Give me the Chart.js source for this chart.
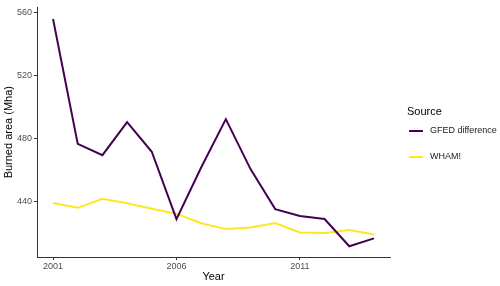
<!DOCTYPE html>
<html>
<head>
<meta charset="utf-8">
<script src="https://cdn.jsdelivr.net/npm/chart.js@4/dist/chart.umd.min.js"></script>
<style>
  html, body { margin: 0; padding: 0; background: #fff; }
  #wrap { width: 500px; height: 286px; position: relative; }
</style>
</head>
<body>
<div id="wrap"><canvas id="chart"></canvas></div>
<script>
const years = [2001, 2002, 2003, 2004, 2005, 2006, 2007, 2008, 2009, 2010, 2011, 2012, 2013, 2014];
const gfedDifference = [555.8, 476.6, 469.4, 490.4, 471.6, 428.8, 461.6, 492.3, 460.6, 435.2, 430.8, 428.9, 411.6, 416.6];
const wham = [439.1, 436.0, 441.8, 438.9, 435.4, 432.3, 426.2, 422.5, 423.5, 426.4, 420.4, 420.0, 421.9, 419.1];
const xTicks = [2001, 2006, 2011];
const yTicks = [440, 480, 520, 560];
const seriesNames = ['GFED difference', 'WHAM!'];
const seriesColors = ['#440154', '#FDE725'];
const legendTitle = 'Source';

const FONT = 'Liberation Sans, Arial, sans-serif';
const AXIS = '#333333';
const TICK_TEXT = '#4d4d4d';

function toPoints(values) {
  return years.map((y, i) => ({ x: y, y: values[i] }));
}

const legendPlugin = {
  id: 'sideLegend',
  afterDraw(chart) {
    const ctx = chart.ctx;
    ctx.save();
    ctx.fillStyle = '#000';
    ctx.textBaseline = 'middle';
    ctx.textAlign = 'left';
    ctx.font = '11px ' + FONT;
    ctx.fillText(legendTitle, 407, 112);
    ctx.font = '9px ' + FONT;
    seriesNames.forEach((name, i) => {
      const y = 131 + i * 26;
      ctx.strokeStyle = seriesColors[i];
      ctx.lineWidth = 2;
      ctx.beginPath();
      ctx.moveTo(409, y);
      ctx.lineTo(423, y);
      ctx.stroke();
      ctx.fillStyle = '#1a1a1a';
      ctx.fillText(name, 430, y);
    });
    ctx.restore();
  }
};

new Chart(document.getElementById('chart'), {
  type: 'line',
  data: {
    datasets: [
      { label: seriesNames[0], data: toPoints(gfedDifference), borderColor: seriesColors[0], borderWidth: 2, pointRadius: 0, tension: 0, fill: false },
      { label: seriesNames[1], data: toPoints(wham), borderColor: seriesColors[1], borderWidth: 2, pointRadius: 0, tension: 0, fill: false },
    ],
  },
  options: {
    responsive: true,
    maintainAspectRatio: false,
    animation: false,
    layout: { padding: { top: 4, right: 110, left: 0, bottom: 0 } },
    plugins: { legend: { display: false }, tooltip: { enabled: false } },
    scales: {
      x: {
        type: 'linear',
        min: 2000.35,
        max: 2014.65,
        afterBuildTicks: scale => { scale.ticks = xTicks.map(v => ({ value: v })); },
        afterFit: scale => { scale.height = 29; },
        ticks: { color: TICK_TEXT, font: { family: FONT, size: 9 }, padding: 1, maxRotation: 0, callback: v => String(v) },
        grid: { drawOnChartArea: false, drawTicks: true, tickLength: 3, color: AXIS },
        border: { display: true, color: AXIS, width: 1 },
        title: { display: true, text: 'Year', color: '#000', font: { family: FONT, size: 11 }, padding: { top: 0, bottom: 2 } },
      },
      y: {
        min: 404.8,
        max: 563.2,
        afterBuildTicks: scale => { scale.ticks = yTicks.map(v => ({ value: v })); },
        afterFit: scale => { scale.width = 37; },
        ticks: { color: TICK_TEXT, font: { family: FONT, size: 9 }, padding: 2 },
        grid: { drawOnChartArea: false, drawTicks: true, tickLength: 3, color: AXIS },
        border: { display: true, color: AXIS, width: 1 },
        title: { display: true, text: 'Burned area (Mha)', color: '#000', font: { family: FONT, size: 11 }, padding: { top: 2, bottom: 0 } },
      },
    },
  },
  plugins: [legendPlugin],
});
</script>
</body>
</html>
